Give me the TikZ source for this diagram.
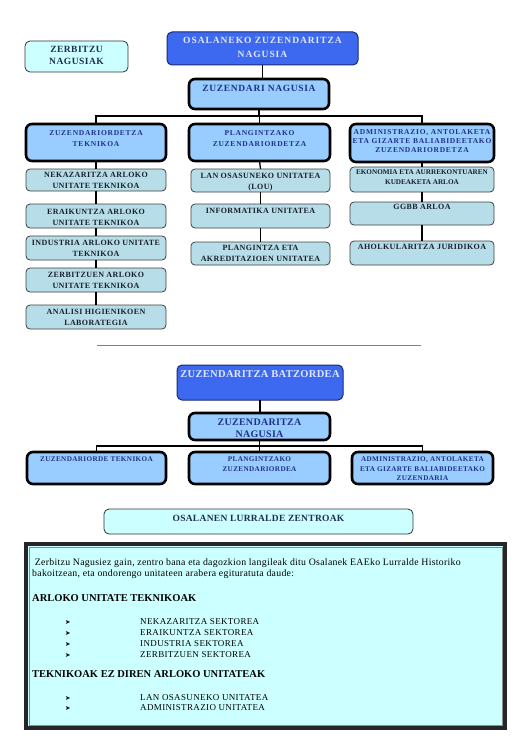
\documentclass[tikz,border=0pt]{standalone}
\usepackage{fontspec}
\setmainfont{Liberation Serif}
\newfontfamily\lsA[LetterSpace=10]{Liberation Serif}
\newfontfamily\lsB[LetterSpace=5]{Liberation Serif}
\newfontfamily\lsC[LetterSpace=3]{Liberation Serif}
\newfontfamily\lsD[LetterSpace=7]{Liberation Serif}
\newfontfamily\lsE[LetterSpace=4]{Liberation Serif}
\newfontfamily\djv{DejaVu Sans}
\definecolor{bluefill}{RGB}{60,105,240}
\definecolor{blueline}{RGB}{30,40,110}
\definecolor{toptext}{RGB}{225,232,255}
\definecolor{lightblue}{RGB}{153,204,255}
\definecolor{subfill}{RGB}{183,222,232}
\definecolor{cyanfill}{RGB}{204,255,255}
\definecolor{navy}{RGB}{30,50,135}
\definecolor{darktext}{RGB}{25,30,45}
\definecolor{cyantext}{RGB}{30,45,80}
\newcommand\bx[9]{%
  \node[#6, anchor=north west, inner sep=0pt, outer sep=0pt,
        minimum width={#4pt-#2pt}, minimum height={#5pt-#3pt}] (#1) at (#2,#3) {};
  \node[#7, anchor=north, align=center, inner sep=0pt] (#1-t) at ([yshift=-#8pt]#1.north) {#9};
}
\tikzset{
  topbox/.style={fill=bluefill, draw=blueline, line width=1pt, rounded corners=5pt},
  mainbox/.style={fill=lightblue, draw=black, line width=2.6pt, rounded corners=6pt},
  subbox/.style={fill=subfill, draw=black!75, line width=0.8pt, rounded corners=4pt},
  cyanbox/.style={fill=cyanfill, draw=black!80, line width=0.8pt, rounded corners=5pt},
  toptxt/.style={text=toptext, font=\lsA\bfseries\fontsize{9.5}{13.3}\selectfont},
  cyantxt/.style={text=cyantext, font=\lsB\bfseries\fontsize{9.5}{12.3}\selectfont},
  zntxt/.style={text=navy, font=\lsD\bfseries\fontsize{9.5}{12}\selectfont},
  hdrtxt/.style={text=navy, font=\lsA\bfseries\fontsize{7.5}{10.3}\selectfont},
  hdrtxtc/.style={text=navy, font=\lsA\bfseries\fontsize{7.5}{9}\selectfont},
  subtxt/.style={text=darktext, font=\lsB\bfseries\fontsize{8}{10.7}\selectfont},
  subtxts/.style={text=darktext, font=\bfseries\fontsize{7.2}{9.3}\selectfont},
  batztxt/.style={text=toptext, font=\lsC\bfseries\fontsize{10.5}{12}\selectfont},
  zn2txt/.style={text=navy, font=\lsC\bfseries\fontsize{10}{11.7}\selectfont},
  rowtxt/.style={text=navy, font=\lsB\bfseries\fontsize{7.2}{9.4}\selectfont},
  conn/.style={draw=black, line width=1.3pt},
  bodytxt/.style={anchor=base west, inner sep=0pt, text=black, font=\lsC\fontsize{9.8}{11}\selectfont},
  headtxt/.style={anchor=base west, inner sep=0pt, text=black, font=\bfseries\fontsize{10.5}{12}\selectfont},
  itemtxt/.style={anchor=base west, inner sep=0pt, text=black, font=\lsE\fontsize{9}{11}\selectfont},
  bullettxt/.style={anchor=base west, inner sep=0pt, text=black, font=\djv\fontsize{6.5}{7}\selectfont},
}
\begin{document}
\begin{tikzpicture}[x=1pt,y=-1pt]
\useasboundingbox[fill=white] (0,0) rectangle (529,749);

% ---- top organigram ----
\bx{zerb}{25}{41}{128}{72}{cyanbox}{cyantxt}{5}{ZERBITZU\\NAGUSIAK}
\bx{osal}{167}{32}{358}{65}{topbox}{toptxt}{5.3}{OSALANEKO ZUZENDARITZA\\NAGUSIA}
\bx{zn}{189}{79}{329}{109}{mainbox}{zntxt}{6}{ZUZENDARI NAGUSIA}

\bx{c1}{26}{124}{166}{161}{mainbox}{hdrtxt}{6.7}{ZUZENDARIORDETZA\\TEKNIKOA}
\bx{c2}{189}{124}{330}{161}{mainbox}{hdrtxt}{6.7}{PLANGINTZAKO\\ZUZENDARIORDETZA}
\bx{c3}{350}{124}{494}{162}{mainbox}{hdrtxtc}{5}{ADMINISTRAZIO, ANTOLAKETA\\ETA GIZARTE BALIABIDEETAKO\\ZUZENDARIORDETZA}

\bx{n1}{26}{169}{166}{191}{subbox}{subtxt}{3.3}{NEKAZARITZA ARLOKO\\UNITATE TEKNIKOA}
\bx{n2}{26}{204}{166}{228}{subbox}{subtxt}{5}{ERAIKUNTZA ARLOKO\\UNITATE TEKNIKOA}
\bx{n3}{26}{236}{166}{260}{subbox}{subtxt}{4}{INDUSTRIA ARLOKO UNITATE\\TEKNIKOA}
\bx{n4}{26}{268}{166}{292}{subbox}{subtxt}{4.3}{ZERBITZUEN ARLOKO\\UNITATE TEKNIKOA}
\bx{n5}{26}{305}{166}{329}{subbox}{subtxt}{4.3}{ANALISI HIGIENIKOEN\\LABORATEGIA}

\bx{l1}{191}{169}{330}{192}{subbox}{subtxt}{4.3}{LAN OSASUNEKO UNITATEA\\(LOU)}
\bx{l2}{191}{204}{330}{228}{subbox}{subtxt}{4.3}{INFORMATIKA UNITATEA}
\bx{l3}{191}{242}{330}{265}{subbox}{subtxt}{3}{PLANGINTZA ETA\\AKREDITAZIOEN UNITATEA}

\bx{e1}{350}{167}{494}{192}{subbox}{subtxts}{3}{EKONOMIA ETA AURREKONTUAREN\\KUDEAKETA ARLOA}
\bx{e2}{350}{202}{494}{225}{subbox}{subtxt}{2.5}{GGBB ARLOA}
\bx{e3}{350}{241}{494}{265}{subbox}{subtxt}{3.3}{AHOLKULARITZA JURIDIKOA}

\coordinate (bus1) at (0,116);
\draw[conn] (osal.south) -- (osal.south |- zn.north);
\draw[conn] (zn.south) -- (zn.south |- bus1);
\draw[conn] (c1.north) -- (c1.north |- bus1) -- (c3.north |- bus1) -- (c3.north);
\draw[conn] (c2.north) -- (c2.north |- bus1);
\draw[conn] (c1.south) -- (n1.north);
\draw[conn] (n1.south) -- (n2.north);
\draw[conn] (n2.south) -- (n3.north);
\draw[conn] (n3.south) -- (n4.north);
\draw[conn] (n4.south) -- (n5.north);
\draw[conn] (c2.south) -- (l1.north);
\draw[conn] (l1.south) -- (l2.north);
\draw[conn] (l2.south) -- (l3.north);
\draw[conn] (c3.south) -- (e1.north);
\draw[conn] (e1.south) -- (e2.north);
\draw[conn] (e2.south) -- (e3.north);

% ---- separator ----
\coordinate (sepL) at (97,345);
\coordinate (sepR) at (421,345);
\draw[gray, line width=1pt] (sepL) -- (sepR);

% ---- second organigram ----
\bx{batz}{177}{365}{343}{400}{topbox}{batztxt}{5.7}{ZUZENDARITZA BATZORDEA}
\bx{zn2}{189}{413}{330}{440}{mainbox}{zn2txt}{6}{ZUZENDARITZA\\NAGUSIA}
\bx{d1}{27}{452}{166}{484}{mainbox}{rowtxt}{4.7}{ZUZENDARIORDE TEKNIKOA}
\bx{d2}{189}{452}{330}{484}{mainbox}{rowtxt}{4.7}{PLANGINTZAKO\\ZUZENDARIORDEA}
\bx{d3}{352}{452}{493}{484}{mainbox}{rowtxt}{4.7}{ADMINISTRAZIO, ANTOLAKETA\\ETA GIZARTE BALIABIDEETAKO\\ZUZENDARIA}

\coordinate (bus2) at (0,446);
\draw[conn] (batz.south) -- (batz.south |- zn2.north);
\draw[conn] (zn2.south) -- (zn2.south |- bus2);
\draw[conn] (d1.north) -- (d1.north |- bus2) -- (d3.north |- bus2) -- (d3.north);
\draw[conn] (d2.north) -- (d2.north |- bus2);

% ---- territorial centres ----
\bx{lurr}{104}{509}{413}{534}{cyanbox}{cyantxt}{6}{{\lsC OSALANEN LURRALDE ZENTROAK}}

% ---- info box ----
\node[fill=cyanfill, draw=black!85, line width=3.5pt, anchor=north west, inner sep=0pt, outer sep=0pt,
      minimum width=479pt, minimum height=184pt] (info) at (26,544) {};
\node[draw=black!45, line width=0.9pt, anchor=north west, inner sep=0pt, outer sep=0pt,
      minimum width=473pt, minimum height=178pt] (infoin) at (29,547) {};

\node[bodytxt] (p1) at (32,565) {\ Zerbitzu Nagusiez gain, zentro bana eta dagozkion langileak ditu Osalanek EAEko Lurralde Historiko};
\node[bodytxt] (p2) at (32,576) {bakoitzean, eta ondorengo unitateen arabera egituratuta daude:};
\node[headtxt] (h1) at (32,601) {ARLOKO UNITATE TEKNIKOAK};
\node[bullettxt] (b1) at (65,624.5) {➤};
\node[bullettxt] (b2) at (65,635.5) {➤};
\node[bullettxt] (b3) at (65,646.5) {➤};
\node[bullettxt] (b4) at (65,657.5) {➤};
\node[itemtxt] (i1) at (140,624.5) {NEKAZARITZA SEKTOREA};
\node[itemtxt] (i2) at (140,635.5) {ERAIKUNTZA SEKTOREA};
\node[itemtxt] (i3) at (140,646.5) {INDUSTRIA SEKTOREA};
\node[itemtxt] (i4) at (140,657.5) {ZERBITZUEN SEKTOREA};
\node[headtxt] (h2) at (32,677) {TEKNIKOAK EZ DIREN ARLOKO UNITATEAK};
\node[bullettxt] (b5) at (65,700.5) {➤};
\node[bullettxt] (b6) at (65,710.5) {➤};
\node[itemtxt] (i5) at (140,700.5) {LAN OSASUNEKO UNITATEA};
\node[itemtxt] (i6) at (140,710.5) {ADMINISTRAZIO UNITATEA};
\end{tikzpicture}
\end{document}
